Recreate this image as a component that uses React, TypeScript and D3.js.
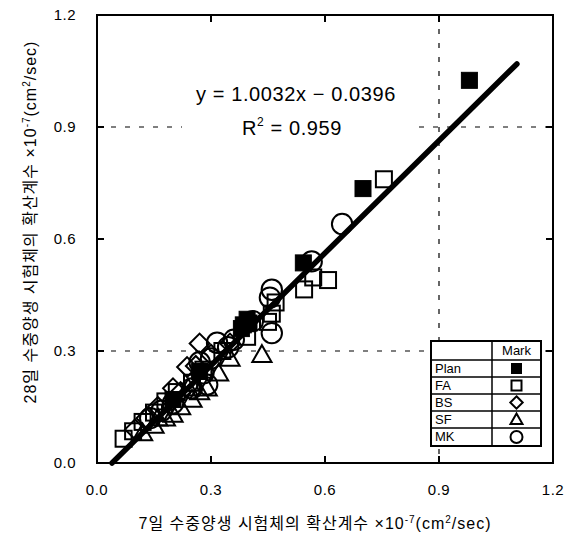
import React from "react";
import * as d3 from "d3";

const xTicks = [0.0, 0.3, 0.6, 0.9, 1.2];
const yTicks = [0.0, 0.3, 0.6, 0.9, 1.2];
const gridY = [0.3, 0.9];
const gridX = [0.9];

const seriesNames = ["Plan", "FA", "BS", "SF", "MK"];
const seriesShapes = ["filledSquare", "square", "diamond", "triangle", "circle"];

const planX = [0.98, 0.70, 0.543, 0.395, 0.40, 0.385, 0.38, 0.27, 0.2];
const planY = [1.025, 0.735, 0.536, 0.385, 0.375, 0.37, 0.36, 0.245, 0.17];

const faX = [0.755, 0.608, 0.569, 0.545, 0.47, 0.45, 0.395, 0.07, 0.095, 0.12, 0.15, 0.18, 0.21, 0.25, 0.28, 0.33, 0.46];
const faY = [0.76, 0.49, 0.497, 0.465, 0.43, 0.378, 0.338, 0.065, 0.085, 0.11, 0.135, 0.165, 0.19, 0.215, 0.25, 0.3, 0.40];

const bsX = [0.27, 0.237, 0.2, 0.16, 0.13, 0.1, 0.3, 0.35, 0.22, 0.26];
const bsY = [0.32, 0.257, 0.2, 0.15, 0.12, 0.09, 0.29, 0.32, 0.19, 0.26];

const sfX = [0.434, 0.12, 0.15, 0.18, 0.2, 0.22, 0.25, 0.27, 0.29, 0.32, 0.35, 0.16, 0.24];
const sfY = [0.29, 0.08, 0.1, 0.12, 0.13, 0.15, 0.17, 0.19, 0.2, 0.24, 0.28, 0.12, 0.2];

const mkX = [0.645, 0.565, 0.46, 0.455, 0.46, 0.316, 0.345, 0.3, 0.28, 0.29, 0.25, 0.2, 0.17, 0.14, 0.36, 0.41, 0.27];
const mkY = [0.64, 0.54, 0.464, 0.443, 0.348, 0.322, 0.31, 0.28, 0.24, 0.21, 0.2, 0.16, 0.14, 0.12, 0.33, 0.38, 0.27];

const seriesX = [planX, faX, bsX, sfX, mkX];
const seriesY = [planY, faY, bsY, sfY, mkY];

const slope = 1.0032;
const intercept = -0.0396;
const fitX = [0.0395, 1.105];

const W = 565, H = 539;
const L = 97, R = 553, T = 15, B = 463;

function Marker({ shape, cx, cy, s }: { shape: string; cx: number; cy: number; s: number }) {
  const sw = 2;
  if (shape === "filledSquare")
    return <rect x={cx - s / 2} y={cy - s / 2} width={s} height={s} fill="#000" stroke="#000" strokeWidth={1} />;
  if (shape === "square")
    return <rect x={cx - s / 2} y={cy - s / 2} width={s} height={s} fill="none" stroke="#000" strokeWidth={sw} />;
  if (shape === "diamond") {
    const r = s * 0.62;
    return <path d={`M${cx},${cy - r}L${cx + r},${cy}L${cx},${cy + r}L${cx - r},${cy}Z`} fill="none" stroke="#000" strokeWidth={sw} />;
  }
  if (shape === "triangle") {
    const r = s * 0.6;
    return <path d={`M${cx},${cy - r}L${cx + r},${cy + r * 0.75}L${cx - r},${cy + r * 0.75}Z`} fill="none" stroke="#000" strokeWidth={sw} />;
  }
  return <circle cx={cx} cy={cy} r={s * 0.6} fill="none" stroke="#000" strokeWidth={sw} />;
}

export default function App() {
  const x = d3.scaleLinear().domain([0, 1.2]).range([L, R]);
  const y = d3.scaleLinear().domain([0, 1.2]).range([B, T]);
  const line = d3.line<number>().x((v) => x(v)).y((v) => y(slope * v + intercept));
  const font = "'Liberation Sans', Arial, 'Noto Sans CJK KR', sans-serif";
  const kfont = "'Liberation Sans', 'Noto Sans CJK KR', sans-serif";

  const legX0 = 431, legX1 = 541, legDiv = 492, legTop = 341;
  const rowH = [19, 17, 17, 17, 17, 18];
  const rowY: number[] = [];
  let acc = legTop;
  for (const h of rowH) { rowY.push(acc); acc += h; }
  const legBottom = acc;

  return (
    <svg width={W} height={H} style={{ position: "absolute", left: 0, top: 0, background: "#fff" }} fontFamily={font}>
      <rect width={W} height={H} fill="#fff" />
      {gridY.map((v) => (
        <line key={"gy" + v} x1={L} x2={R} y1={y(v)} y2={y(v)} stroke="#000" strokeWidth={1.2} strokeDasharray="5,9" />
      ))}
      {gridX.map((v) => (
        <line key={"gx" + v} x1={x(v)} x2={x(v)} y1={T} y2={B} stroke="#000" strokeWidth={1.2} strokeDasharray="5,9" />
      ))}
      <rect x={182} y={70} width={230} height={72} fill="#fff" />
      {seriesX.map((xs, si) =>
        xs.map((v, i) => (
          <Marker key={si + "-" + i} shape={seriesShapes[si]} cx={x(v)} cy={y(seriesY[si][i])} s={si === 4 ? 17 : 16} />
        ))
      )}
      <path d={line(fitX) || ""} fill="none" stroke="#000" strokeWidth={5.5} strokeLinecap="round" />
      <rect x={L} y={T} width={R - L} height={B - T} fill="none" stroke="#000" strokeWidth={2} />
      {yTicks.slice(1, -1).map((v) => (
        <g key={"yt" + v}>
          <line x1={L} x2={L + 7} y1={y(v)} y2={y(v)} stroke="#000" strokeWidth={2} />
          <line x1={R - 7} x2={R} y1={y(v)} y2={y(v)} stroke="#000" strokeWidth={2} />
        </g>
      ))}
      {xTicks.slice(1, -1).map((v) => (
        <g key={"xt" + v}>
          <line x1={x(v)} x2={x(v)} y1={B} y2={B - 7} stroke="#000" strokeWidth={2} />
          <line x1={x(v)} x2={x(v)} y1={T} y2={T + 7} stroke="#000" strokeWidth={2} />
        </g>
      ))}
      {yTicks.map((v) => (
        <text key={"yl" + v} x={76} y={y(v) + 5} textAnchor="end" fontSize={15} letterSpacing={0.5} fill="#000">{d3.format(".1f")(v)}</text>
      ))}
      {xTicks.map((v) => (
        <text key={"xl" + v} x={x(v)} y={495} textAnchor="middle" fontSize={15} letterSpacing={0.5} fill="#000">{d3.format(".1f")(v)}</text>
      ))}
      <text x={296} y={101} textAnchor="middle" fontSize={20} letterSpacing={0.6} fill="#000">y = 1.0032x − 0.0396</text>
      <text x={292} y={135} textAnchor="middle" fontSize={20} letterSpacing={0.6} fill="#000">
        R<tspan dy={-9} fontSize={12}>2</tspan><tspan dy={9}> = 0.959</tspan>
      </text>
      <rect x={legX0} y={legTop} width={legX1 - legX0} height={legBottom - legTop} fill="#fff" stroke="#000" strokeWidth={2} />
      <line x1={legDiv} x2={legDiv} y1={legTop} y2={legBottom} stroke="#000" strokeWidth={1.5} />
      {rowY.slice(1).map((yy, i) => (
        <line key={"lr" + i} x1={legX0} x2={legX1} y1={yy} y2={yy} stroke="#000" strokeWidth={1.5} />
      ))}
      <text x={(legDiv + legX1) / 2} y={rowY[0] + 14} textAnchor="middle" fontSize={13} fill="#000">Mark</text>
      {seriesNames.map((n, i) => (
        <g key={"lg" + n}>
          <text x={legX0 + 4} y={rowY[i + 1] + 13} fontSize={13} fill="#000">{n}</text>
          <Marker shape={seriesShapes[i]} cx={(legDiv + legX1) / 2} cy={rowY[i + 1] + rowH[i + 1] / 2} s={10} />
        </g>
      ))}
      <text x={315} y={529} textAnchor="middle" fontSize={16} letterSpacing={1} fill="#000" fontFamily={kfont}>
        7일 수중양생 시험체의 확산계수 ×10<tspan dy={-6} fontSize={10}>-7</tspan><tspan dy={6}>(cm</tspan><tspan dy={-6} fontSize={10}>2</tspan><tspan dy={6}>/sec)</tspan>
      </text>
      <text transform={`translate(36,222) rotate(-90)`} textAnchor="middle" fontSize={16} letterSpacing={1} fill="#000" fontFamily={kfont}>
        28일 수중양생 시험체의 확산계수 ×10<tspan dy={-6} fontSize={10}>-7</tspan><tspan dy={6}>(cm</tspan><tspan dy={-6} fontSize={10}>2</tspan><tspan dy={6}>/sec)</tspan>
      </text>
    </svg>
  );
}
